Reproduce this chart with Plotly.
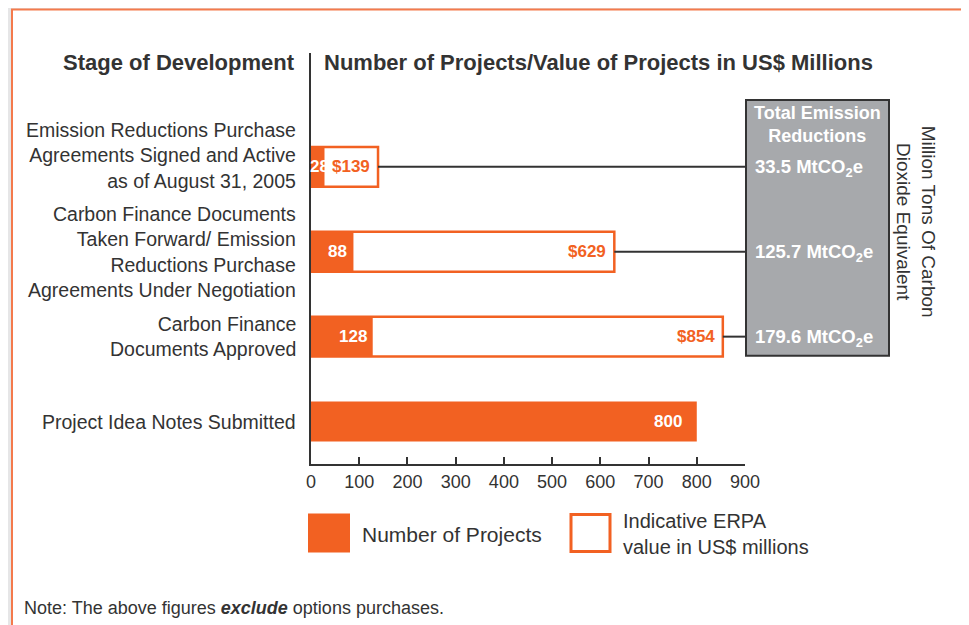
import plotly.graph_objects as go

# ---- data ----
stages = [
    "Emission Reductions Purchase<br>Agreements Signed and Active<br>as of August 31, 2005",
    "Carbon Finance Documents<br>Taken Forward/ Emission<br>Reductions Purchase<br>Agreements Under Negotiation",
    "Carbon Finance<br>Documents Approved",
    "Project Idea Notes Submitted",
]
num_projects = [28, 88, 128, 800]
erpa_values = [139, 629, 854]          # first three stages only
emission_labels = ["33.5 MtCO<sub>2</sub>e", "125.7 MtCO<sub>2</sub>e", "179.6 MtCO<sub>2</sub>e"]
x_ticks = [0, 100, 200, 300, 400, 500, 600, 700, 800, 900]

ORANGE = "#f26122"
DARK = "#333333"
GRAY = "#a7a9ac"
FONT = "Liberation Sans, Arial, sans-serif"

ypos = [3, 2, 1, 0]
ypos_erpa = ypos[:len(erpa_values)]

OFF = 8                      # page body margin
W, H = 969 - OFF, 625 - OFF
PL, PR, PT, PB = 311, 745, 53, 464.5   # plot area in page pixels
L, R, T, B = PL - OFF, 969 - PR, PT - OFF, 625 - PB
PW, PH = PR - PL, PB - PT


def px(x):
    return (x - PL) / PW


def py(y):
    return (PB - y) / PH


fig = go.Figure()

# connector lines from ERPA bar ends to the emission box
for v, y in zip(erpa_values, ypos_erpa):
    fig.add_trace(go.Scatter(x=[v, 900], y=[y, y], mode="lines",
                             line=dict(color=DARK, width=2),
                             hoverinfo="skip", showlegend=False))

fig.add_trace(go.Bar(
    x=erpa_values, y=ypos_erpa, orientation="h", width=0.47,
    marker=dict(color="white", line=dict(color=ORANGE, width=2.5)),
    name="Indicative ERPA value in US$ millions", showlegend=False))

fig.add_trace(go.Bar(
    x=num_projects, y=ypos, orientation="h", width=0.47,
    marker=dict(color=ORANGE, line=dict(width=0)),
    name="Number of Projects", showlegend=False))

ann = []
shapes = []

# white panel with orange border
shapes.append(dict(type="rect", xref="paper", yref="paper",
                   x0=px(12), x1=px(963), y0=py(640), y1=py(9.5),
                   fillcolor="white", line=dict(color="#f47a4c", width=2), layer="below"))

# emission box
shapes.append(dict(type="rect", xref="paper", yref="paper",
                   x0=px(746), x1=px(889), y0=py(356), y1=py(100),
                   fillcolor=GRAY, line=dict(color=DARK, width=2), layer="above"))

# category labels
for i, (s, y) in enumerate(zip(stages, ypos)):
    ann.append(dict(x=0, y=y, xref="paper", yref="y", text=s, showarrow=False,
                    xanchor="right", yanchor="middle", align="right", xshift=-13,
                    yshift=11 if i == 0 else 0,
                    font=dict(family=FONT, size=19.5, color=DARK)))

# project count labels
for v, y in zip(num_projects, ypos):
    shift = -13 if v >= 500 else (6 if v < 40 else -4)
    ann.append(dict(x=v, y=y, xref="x", yref="y", text="<b>%d</b>" % v, showarrow=False,
                    xanchor="right", yanchor="middle", xshift=shift,
                    font=dict(family=FONT, size=17, color="white")))

# ERPA labels
for v, y in zip(erpa_values, ypos_erpa):
    ann.append(dict(x=v, y=y, xref="x", yref="y", text="<b>$%d</b>" % v, showarrow=False,
                    xanchor="right", yanchor="middle", xshift=-6,
                    font=dict(family=FONT, size=17, color=ORANGE)))

# emission labels
for t, y in zip(emission_labels, ypos_erpa):
    ann.append(dict(x=px(753), y=y, xref="paper", yref="y", text="<b>%s</b>" % t,
                    showarrow=False, xanchor="left", yanchor="middle", yshift=-1,
                    font=dict(family=FONT, size=18.5, color="white")))

ann.append(dict(x=px(817), y=py(125), xref="paper", yref="paper",
                text="<b>Total Emission<br>Reductions</b>", showarrow=False,
                xanchor="center", yanchor="middle",
                font=dict(family=FONT, size=18, color="white")))

ann.append(dict(x=px(916), y=py(222), xref="paper", yref="paper",
                text="Million Tons Of Carbon<br>Dioxide Equivalent", textangle=90,
                showarrow=False, xanchor="center", yanchor="middle",
                font=dict(family=FONT, size=19, color=DARK)))

# titles
ann.append(dict(x=px(297), y=py(63), xref="paper", yref="paper",
                text="<b>Stage of Development</b>", showarrow=False,
                xanchor="right", yanchor="middle",
                font=dict(family=FONT, size=22, color=DARK)))
ann.append(dict(x=px(322), y=py(63), xref="paper", yref="paper",
                text="<b>Number of Projects/Value of Projects in US$ Millions</b>",
                showarrow=False, xanchor="left", yanchor="middle",
                font=dict(family=FONT, size=22, color=DARK)))

# legend
shapes.append(dict(type="rect", xref="paper", yref="paper",
                   x0=px(308), x1=px(350), y0=py(553), y1=py(514),
                   fillcolor=ORANGE, line=dict(width=0)))
shapes.append(dict(type="rect", xref="paper", yref="paper",
                   x0=px(571), x1=px(610), y0=py(552), y1=py(515),
                   fillcolor="white", line=dict(color=ORANGE, width=3)))
ann.append(dict(x=px(360), y=py(535), xref="paper", yref="paper",
                text="Number of Projects", showarrow=False,
                xanchor="left", yanchor="middle",
                font=dict(family=FONT, size=21, color=DARK)))
ann.append(dict(x=px(621), y=py(535), xref="paper", yref="paper",
                text="Indicative ERPA<br>value in US$ millions", showarrow=False,
                xanchor="left", yanchor="middle", align="left",
                font=dict(family=FONT, size=20, color=DARK)))

# note
ann.append(dict(x=px(22), y=py(609), xref="paper", yref="paper",
                text="Note: The above figures <b><i>exclude</i></b> options purchases.",
                showarrow=False, xanchor="left", yanchor="middle",
                font=dict(family=FONT, size=18, color=DARK)))

fig.update_layout(
    width=W, height=H,
    margin=dict(l=L, r=R, t=T, b=B, pad=0),
    paper_bgcolor="#e6e6e7",
    plot_bgcolor="rgba(0,0,0,0)",
    barmode="overlay",
    showlegend=False,
    annotations=ann,
    shapes=shapes,
    xaxis=dict(range=[0, 900], tickvals=x_ticks, ticks="inside", ticklen=7,
               tickwidth=2, tickcolor=DARK, showline=True, linecolor=DARK, linewidth=2,
               showgrid=False, zeroline=False,
               tickfont=dict(family=FONT, size=18, color=DARK)),
    yaxis=dict(range=[-0.5, 4.341], showticklabels=False, ticks="",
               showline=True, linecolor=DARK, linewidth=2,
               showgrid=False, zeroline=False),
)

fig.write_html("out.html")
